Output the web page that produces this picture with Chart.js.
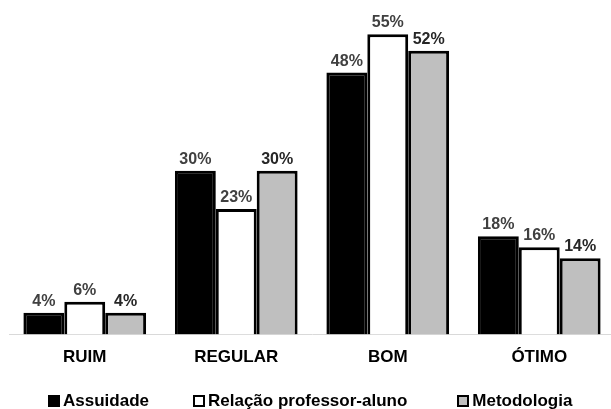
<!DOCTYPE html>
<html lang="pt">
<head>
    <meta charset="UTF-8">
    <title>Avaliação</title>
    <script src="https://cdn.jsdelivr.net/npm/chart.js@4.4.1/dist/chart.umd.min.js"></script>
    <style>
        body {
            margin: 0;
            overflow: hidden;
            background: #fff;
            font-family: "Liberation Sans", Arial, sans-serif;
        }

        #wrap {
            position: relative;
            width: 617px;
            height: 409px;
        }

        #legenda {
            position: absolute;
            top: 391px;
            left: 48px;
            display: flex;
            font-weight: bold;
            font-size: 17px;
            line-height: 20px;
            color: #000;
        }

        .item {
            display: flex;
            align-items: center;
        }

        .item:nth-child(2) {
            margin-left: 44px;
        }

        .item:nth-child(3) {
            margin-left: 50px;
        }

        .caixa {
            box-sizing: border-box;
            width: 12px;
            height: 12px;
            margin-right: 3px;
            border: 2px solid #000;
        }
    </style>
</head>
<body>
    <div id="wrap">
        <canvas id="grafico"></canvas>
        <div id="legenda"></div>
    </div>

    <script>
        const categorias = ["RUIM", "REGULAR", "BOM", "ÓTIMO"];
        const series = ["Assuidade", "Relação professor-aluno", "Metodologia"];
        const assuidade = [4, 30, 48, 18];
        const relacao = [6, 23, 55, 16];
        const metodologia = [4, 30, 52, 14];

        const cores = ["#000000", "#ffffff", "#bfbfbf"];
        const coresRotulo = ["#404040", "#404040", "#262626"];
        const valores = [assuidade, relacao, metodologia];

        // rótulos de porcentagem em cima de cada barra
        const rotulos = {
            id: "rotulos",
            afterDatasetsDraw(chart) {
                const ctx = chart.ctx;
                ctx.save();
                ctx.font = "bold 16px 'Liberation Sans', Arial, sans-serif";
                ctx.textAlign = "center";
                ctx.textBaseline = "alphabetic";
                chart.data.datasets.forEach((ds, i) => {
                    const meta = chart.getDatasetMeta(i);
                    ctx.fillStyle = coresRotulo[i];
                    meta.data.forEach((barra, j) => {
                        ctx.fillText(ds.data[j] + "%", barra.x, barra.y - 7);
                    });
                });
                ctx.restore();
            }
        };

        new Chart(document.getElementById("grafico"), {
            type: "bar",
            data: {
                labels: categorias,
                datasets: series.map((nome, i) => ({
                    label: nome,
                    data: valores[i],
                    backgroundColor: cores[i],
                    borderColor: "#000",
                    borderWidth: 3,
                    borderSkipped: "start",
                    categoryPercentage: 0.81,
                    barPercentage: 1
                }))
            },
            options: {
                responsive: true,
                maintainAspectRatio: false,
                animation: false,
                layout: {
                    padding: { left: 9, right: 2, top: 7, bottom: 28 }
                },
                plugins: {
                    legend: { display: false },
                    tooltip: { enabled: false }
                },
                scales: {
                    x: {
                        grid: { display: false, drawTicks: false },
                        border: { display: true, color: "#d9d9d9", width: 1 },
                        ticks: {
                            color: "#000",
                            padding: 13,
                            font: { family: "'Liberation Sans', Arial, sans-serif", size: 17, weight: "bold" }
                        }
                    },
                    y: {
                        display: false,
                        min: 0,
                        max: 60
                    }
                }
            },
            plugins: [rotulos]
        });

        // legenda em HTML
        const legenda = document.getElementById("legenda");
        series.forEach((nome, i) => {
            const item = document.createElement("div");
            item.className = "item";
            const caixa = document.createElement("span");
            caixa.className = "caixa";
            caixa.style.background = cores[i];
            const texto = document.createElement("span");
            texto.textContent = nome;
            item.appendChild(caixa);
            item.appendChild(texto);
            legenda.appendChild(item);
        });
    </script>
</body>
</html>
